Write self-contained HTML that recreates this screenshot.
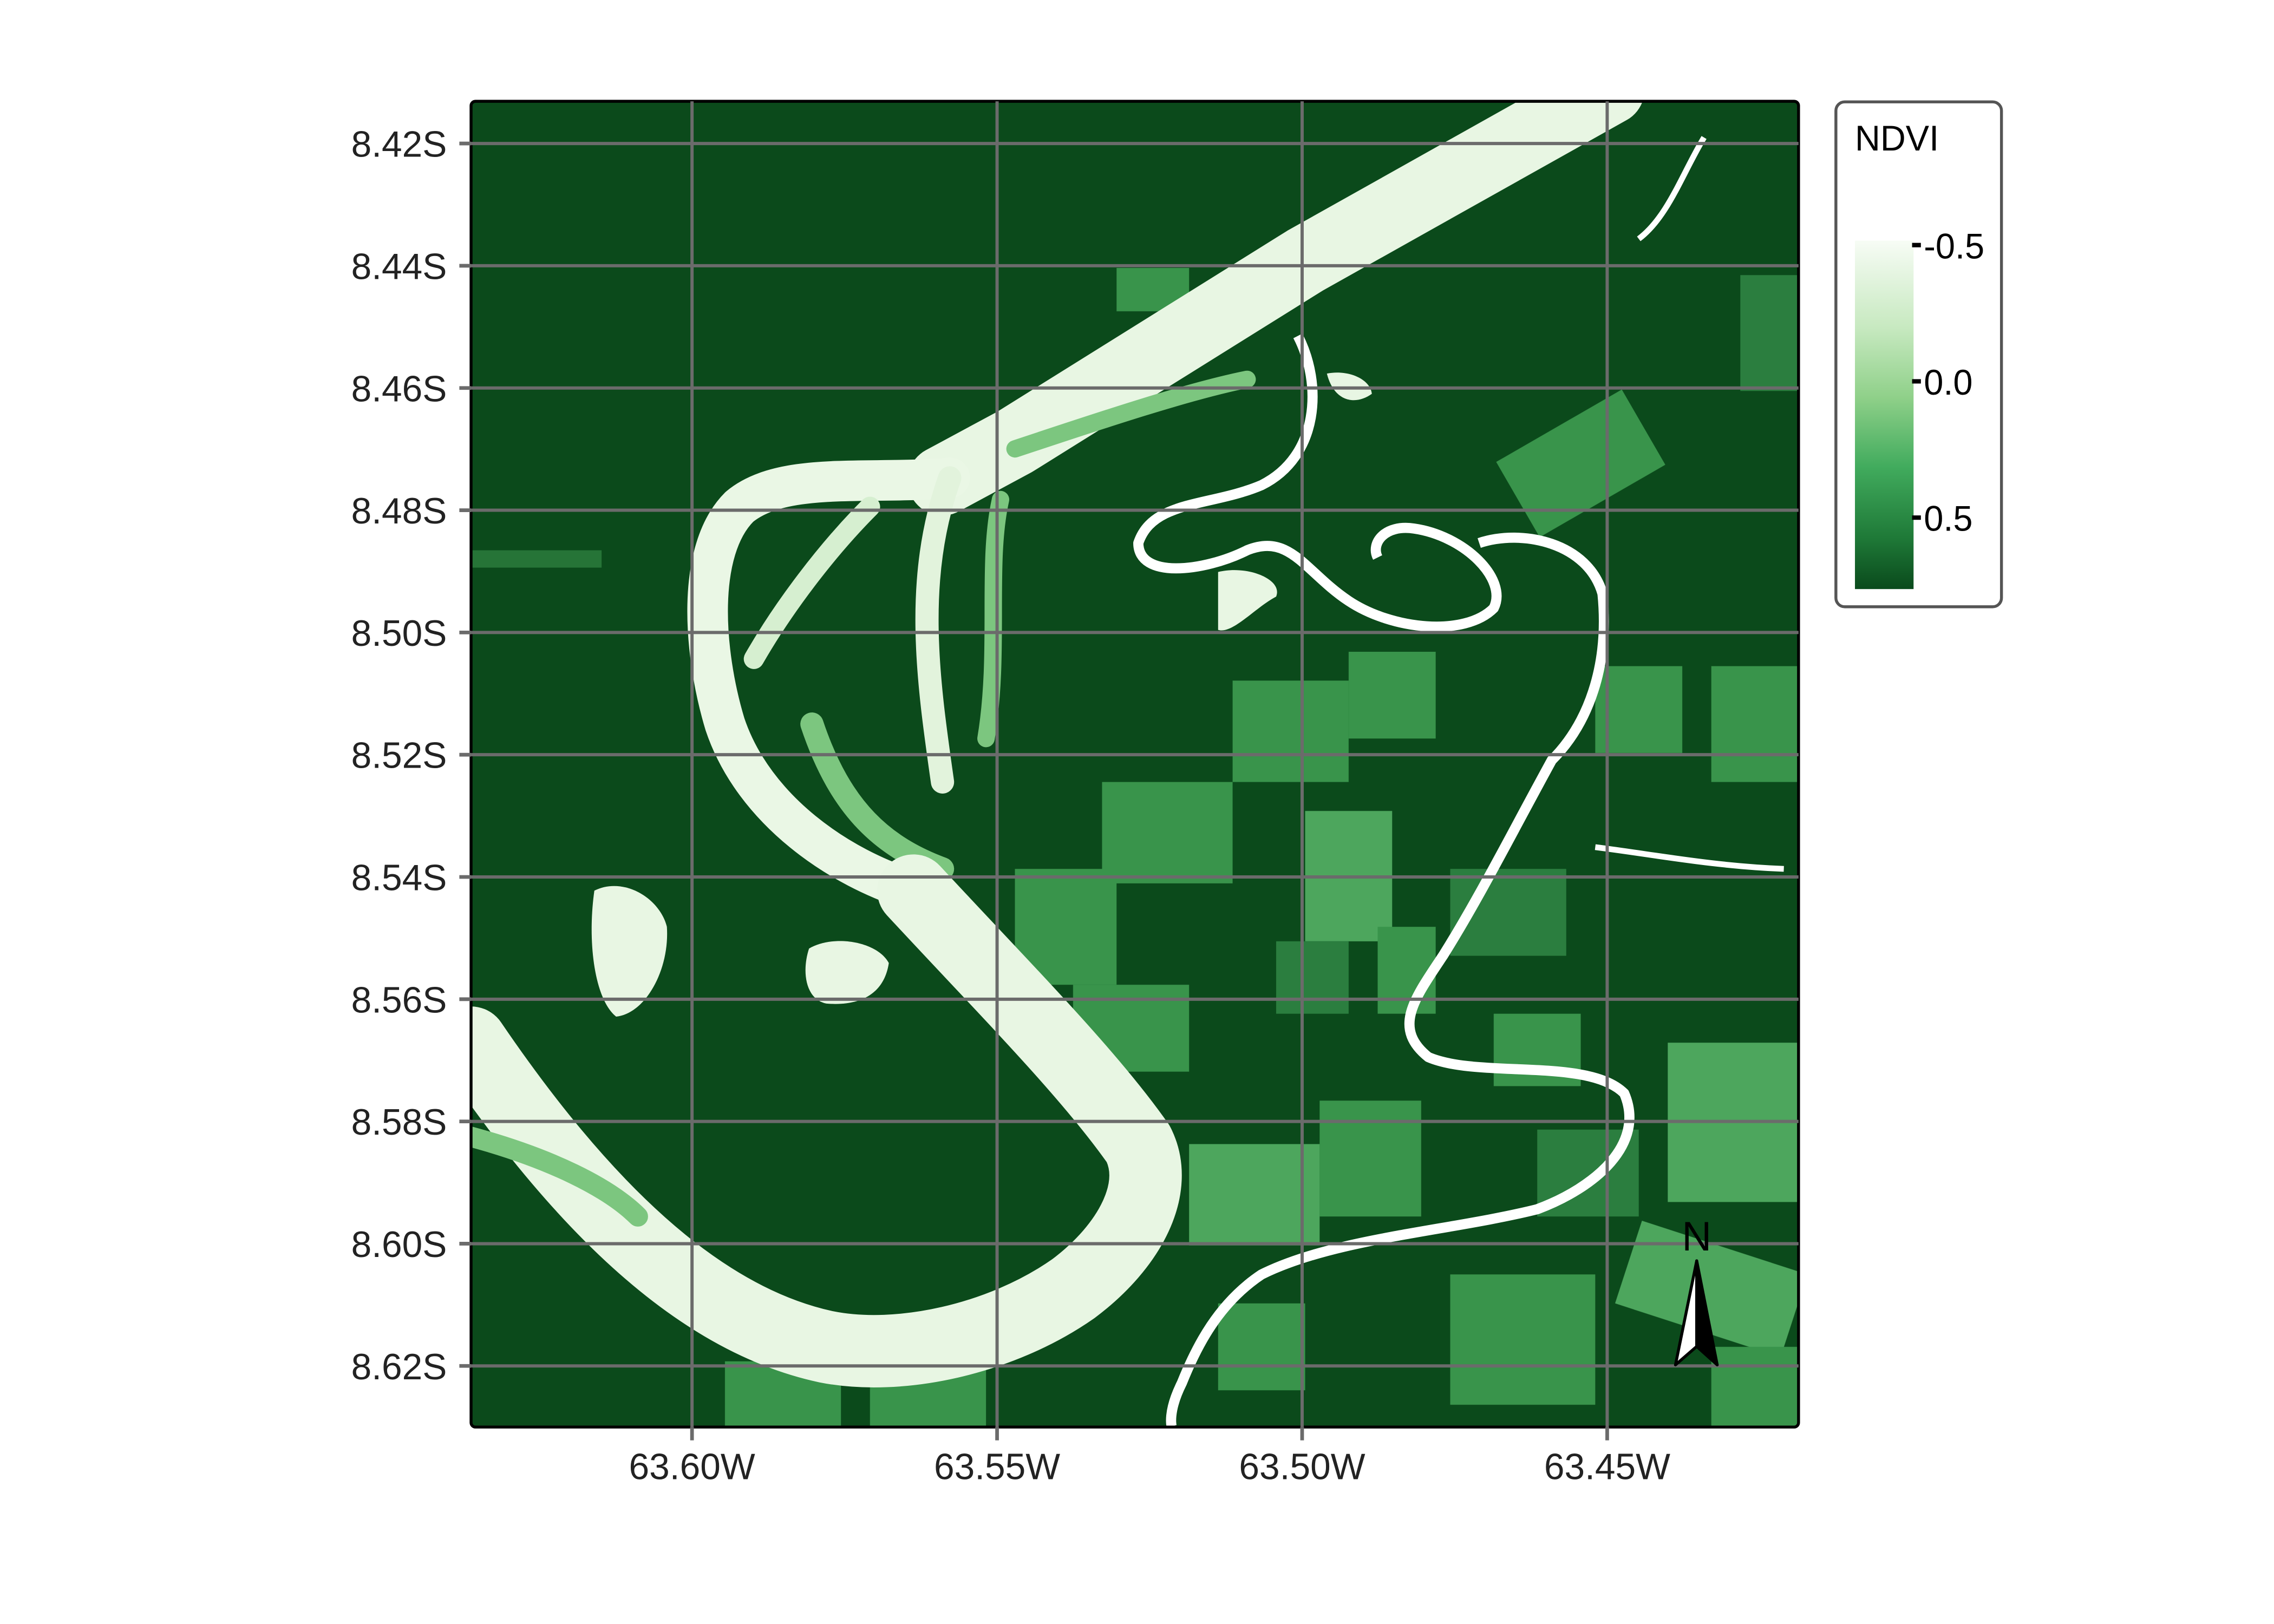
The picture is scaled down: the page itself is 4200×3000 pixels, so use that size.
<!DOCTYPE html>
<html><head><meta charset="utf-8"><style>
html,body{margin:0;padding:0;background:#fff;}
svg{display:block;}
text{font-family:"Liberation Sans",sans-serif;}
</style></head>
<body>
<svg id="chart" width="4200" height="3000" viewBox="0 0 1552 1100" preserveAspectRatio="none" xmlns="http://www.w3.org/2000/svg">
<defs>
<clipPath id="clip"><rect x="321.5" y="68.6" width="906" height="898" rx="3"/></clipPath>
<linearGradient id="ramp" x1="0" y1="0" x2="0" y2="1">
<stop offset="0" stop-color="#f7fcf5"/><stop offset="0.25" stop-color="#c7e9c0"/>
<stop offset="0.45" stop-color="#8fd089"/><stop offset="0.65" stop-color="#41ab5d"/>
<stop offset="0.85" stop-color="#1f7a38"/><stop offset="1" stop-color="#0a4a1c"/>
</linearGradient>
</defs>
<g id="map" clip-path="url(#clip)">
<rect x="321.5" y="68.6" width="906" height="898" fill="#0b4a1b"/>
<g transform="translate(321.5 68.6) scale(0.99 0.981) translate(-325 -70)">
<g fill="#3f9d52" opacity="0.9">
<rect x="760" y="540" width="90" height="70"/><rect x="700" y="600" width="70" height="80"/>
<rect x="740" y="680" width="80" height="60"/><rect x="850" y="470" width="80" height="70"/>
<rect x="900" y="560" width="60" height="90" fill="#55b266"/><rect x="930" y="450" width="60" height="60"/>
<rect x="820" y="790" width="90" height="70" fill="#55b266"/><rect x="910" y="760" width="70" height="80"/>
<rect x="1030" y="700" width="60" height="50"/><rect x="1150" y="720" width="90" height="110" fill="#55b266"/>
<rect x="1180" y="460" width="60" height="80"/><rect x="1100" y="460" width="60" height="60"/>
<rect x="1120" y="860" width="120" height="60" fill="#55b266" transform="rotate(18 1180 890)"/>
<rect x="1040" y="290" width="100" height="60" transform="rotate(-30 1090 320)"/>
<rect x="500" y="940" width="80" height="50"/><rect x="600" y="930" width="80" height="60"/>
<rect x="840" y="900" width="60" height="60"/><rect x="1000" y="880" width="100" height="90"/>
<rect x="1180" y="930" width="60" height="55"/><rect x="950" y="640" width="40" height="60"/>
<rect x="1000" y="600" width="80" height="60" fill="#2f8544"/><rect x="770" y="185" width="50" height="30"/>
<rect x="1200" y="190" width="40" height="80" fill="#2f8544"/><rect x="325" y="380" width="90" height="12" fill="#2a7a3c"/>
<rect x="880" y="650" width="50" height="50" fill="#2f8544"/><rect x="1060" y="780" width="70" height="60" fill="#2f8544"/>
</g>
<g fill="none" stroke-linecap="round" stroke-linejoin="round">
<path d="M1110,62 L900,180 L700,305 L650,332" stroke="#e8f6e3" stroke-width="48"/>
<path d="M655,330 C600,335 540,325 510,350 C480,380 485,450 500,500 C520,560 580,600 630,615" stroke="#eaf7e5" stroke-width="28"/>
<path d="M655,330 C630,400 640,470 650,540" stroke="#e2f3dc" stroke-width="16"/>
<path d="M520,455 C540,420 570,380 600,350" stroke="#d6efd0" stroke-width="14"/>
<path d="M560,500 C580,560 610,585 650,600" stroke="#7cc67f" stroke-width="16"/>
<path d="M690,345 C680,390 690,450 680,510" stroke="#7cc67f" stroke-width="12"/>
<path d="M630,615 C690,680 750,740 785,790 C800,820 780,860 740,890 C690,925 620,940 570,930 C500,915 420,860 325,720" stroke="#e8f6e3" stroke-width="50"/>
<path d="M325,785 C380,800 420,820 440,840" stroke="#7cc67f" stroke-width="14"/>
<path d="M700,310 C760,290 820,270 860,262" stroke="#7cc67f" stroke-width="12"/>
</g>
<g fill="#e8f6e3">
<path d="M410,615 C430,605 455,620 460,640 C462,670 445,700 425,702 C410,690 405,650 410,615Z"/>
<path d="M558,655 C575,645 605,650 613,665 C610,685 595,695 570,693 C555,690 553,670 558,655Z"/>
<path d="M915,258 C930,255 945,262 946,272 C935,280 920,278 915,258Z"/>
<path d="M840,395 C860,390 885,400 880,412 C865,420 850,438 840,435Z"/>
</g>
<path fill="none" stroke="#ffffff" stroke-width="7" stroke-linejoin="round" d="M895,232 C912,265 910,315 870,335 C835,350 795,345 785,375 C785,400 830,395 860,380 C890,368 900,395 930,415 C960,435 1010,440 1030,420 C1040,400 1010,370 975,365 C955,362 945,375 950,385 M1020,375 C1050,365 1095,375 1105,410 C1110,460 1095,500 1070,525 C1040,580 1020,620 995,660 C975,690 960,710 985,730 C1020,745 1095,730 1120,755 C1135,790 1100,820 1060,835 C1000,850 920,855 870,880 C840,900 825,930 815,955 C805,975 808,985 808,985"/>
<path fill="none" stroke="#ffffff" stroke-width="4" d="M1100,585 C1140,590 1180,598 1230,600 M1130,165 C1150,150 1160,120 1175,95"/>
</g>
</g>
<rect x="321.5" y="68.6" width="906" height="898" rx="3" fill="none" stroke="#000" stroke-width="2"/>
<g id="grid"></g>
<g id="axes"></g>
<g>
<text x="1158" y="847" font-size="28" text-anchor="middle" fill="#000">N</text>
<path d="M1158,854 L1143.5,924.5 L1158,912Z" fill="#fff" stroke="#000" stroke-width="2" stroke-linejoin="round"/>
<path d="M1158,854 L1172,924.5 L1158,912Z" fill="#000" stroke="#000" stroke-width="2" stroke-linejoin="round"/>
</g>
<g>
<rect x="1253" y="69" width="113" height="342" rx="6" fill="#fff" stroke="#555" stroke-width="2"/>
<text x="1266" y="102" font-size="24" fill="#000">NDVI</text>
<rect x="1266" y="163" width="40" height="236" fill="url(#ramp)"/>
<g id="legendTicks"></g>
</g>
</svg>
<script>
const latTicks = [8.42, 8.44, 8.46, 8.48, 8.50, 8.52, 8.54, 8.56, 8.58, 8.60, 8.62];
const lonTicks = [63.60, 63.55, 63.50, 63.45];
const legendValues = [-0.5, 0.0, 0.5];
const legendLabels = ["-0.5", "0.0", "0.5"];
const NS = "http://www.w3.org/2000/svg";
const PL = 321.5, PR = 1227.5, PT = 68.6, PB = 966.6;
const yLat = v => 97.2 + (v - 8.42) / 0.02 * 82.8;
const xLon = v => 472.3 + (63.60 - v) / 0.05 * 208.2;
const yLeg = v => 166 + (v + 0.5) / 0.5 * 92.3;
function mk(tag, attrs, parent){const e=document.createElementNS(NS,tag);for(const k in attrs)e.setAttribute(k,attrs[k]);parent.appendChild(e);return e;}
const grid=document.getElementById('grid'), axes=document.getElementById('axes'), lt=document.getElementById('legendTicks');
latTicks.forEach(v=>{
  const y=yLat(v);
  const l=mk('line',{x1:PL,x2:PR,y1:y,y2:y,stroke:'#6b6b6b','stroke-width':2.2},grid);
  
  
  const t=mk('line',{x1:PL-8,x2:PL,y1:y,y2:y,stroke:'#6b6b6b','stroke-width':2.5},axes);
  
  
  const tx=mk('text',{x:305,y:y+9,'font-size':25,'text-anchor':'end',fill:'#222'},axes);
  tx.textContent=v.toFixed(2)+'S';
  
  
});
lonTicks.forEach(v=>{
  const x=xLon(v);
  const l=mk('line',{x1:x,x2:x,y1:PT,y2:PB,stroke:'#6b6b6b','stroke-width':2.2},grid);
  
  
  const t=mk('line',{x1:x,x2:x,y1:PB,y2:PB+9,stroke:'#6b6b6b','stroke-width':2.5},axes);
  
  
  const tx=mk('text',{x:x,y:1002,'font-size':25,'text-anchor':'middle',fill:'#222'},axes);
  tx.textContent=v.toFixed(2)+'W';
  
  
});
legendValues.forEach((v,i)=>{
  const y=yLeg(v);
  const t=mk('line',{x1:1305,x2:1311,y1:y,y2:y,stroke:'#000','stroke-width':3},lt);
  
  
  const tx=mk('text',{x:1313,y:y+9,'font-size':24,fill:'#000'},lt);
  tx.textContent=legendLabels[i];
  
  
});
</script>
</body></html>
